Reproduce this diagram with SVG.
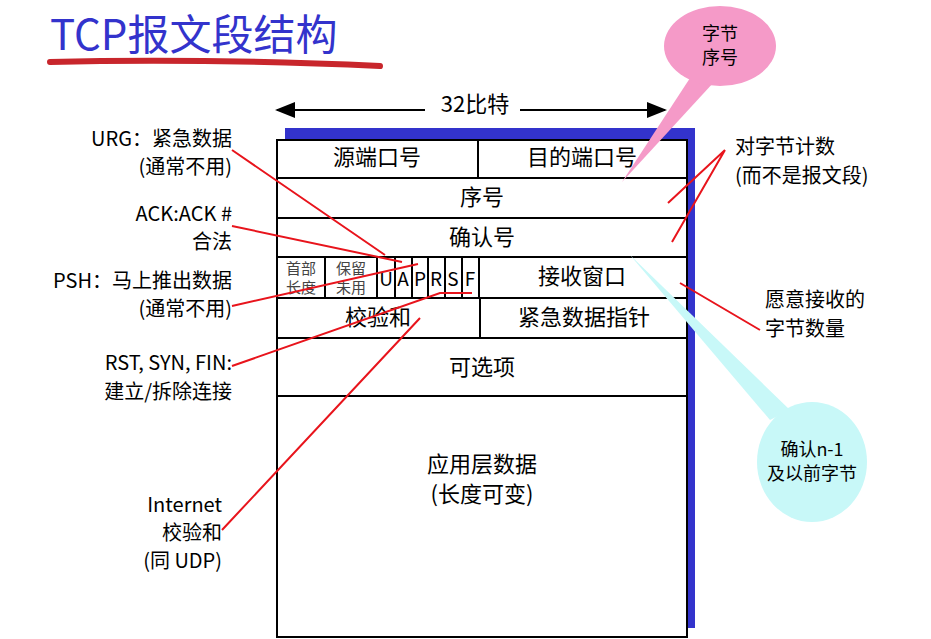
<svg xmlns="http://www.w3.org/2000/svg" width="931" height="639" viewBox="0 0 931 639">
<style>
text{font-family:"Noto Sans CJK SC","Noto Sans",sans-serif;fill:#000}
.c{font-size:22px;text-anchor:middle}
.l{font-size:20px;text-anchor:end}
.s{font-size:15px;fill:#444;text-anchor:middle}
.f{font-size:19px;text-anchor:middle}
.r{stroke:#e8141c;stroke-width:2;fill:none}
.b{stroke:#000;stroke-width:2;fill:none}
</style>
<defs><marker id="a" markerWidth="10" markerHeight="8" refX="9" refY="4" orient="auto"><path d="M0,0L10,4L0,8z" fill="#000"/></marker></defs>
<g id="title"><text x="50" y="50" font-size="42" style="fill:#3333cc">TCP报文段结构</text>
<path d="M50,62 Q200,58 380,66" stroke="#c8262c" stroke-width="6" fill="none" stroke-linecap="round"/></g>
<g id="width"><path d="M425,110 H277" class="b" marker-end="url(#a)"/><path d="M520,110 H665" class="b" marker-end="url(#a)"/><text class="c" x="475" y="112">32比特</text></g>
<g id="segment">
<rect x="285" y="128" width="410" height="500" fill="#3333cc"/>
<rect x="277" y="140" width="410" height="497" fill="#fff" stroke="#000" stroke-width="2"/>
<path class="b" d="M277,178H687M277,218H687M277,257H687M277,298H687M277,338H687M277,396H687M478,140V178M480,298V338M325,257V298M377,257V298M395,257V298M412,257V298M428,257V298M445,257V298M462,257V298M479,257V298"/>
<text class="c" x="377" y="165">源端口号</text><text class="c" x="582" y="165">目的端口号</text>
<text class="c" x="482" y="205">序号</text><text class="c" x="482" y="245">确认号</text>
<text class="s" x="301" y="274">首部</text><text class="s" x="301" y="293">长度</text>
<text class="s" x="351" y="274">保留</text><text class="s" x="351" y="293">未用</text>
<text class="f" x="386" y="286">U</text><text class="f" x="403" y="286">A</text><text class="f" x="420" y="286">P</text><text class="f" x="436" y="286">R</text><text class="f" x="453" y="286">S</text><text class="f" x="470" y="286">F</text>
<text class="c" x="582" y="284">接收窗口</text>
<text class="c" x="378" y="325">校验和</text><text class="c" x="584" y="325">紧急数据指针</text>
<text class="c" x="482" y="375">可选项</text>
<text class="c" x="482" y="472">应用层数据</text><text class="c" x="482" y="502">(长度可变)</text>
</g>
<g id="bubble1"><path d="M692,75 L622,182 L714,82 z" fill="#f59ac8"/><ellipse cx="720" cy="46" rx="56" ry="40" fill="#f59ac8"/><text class="c" x="720" y="40" style="font-size:18px">字节</text><text class="c" x="720" y="64" style="font-size:18px">序号</text></g>
<g id="bubble2"><path d="M630,255 L770,420 L790,410 z" fill="#c8f8f8"/><ellipse cx="812" cy="462" rx="55" ry="60" fill="#c8f8f8"/><text class="c" x="812" y="456" style="font-size:18px">确认n-1</text><text class="c" x="812" y="480" style="font-size:18px">及以前字节</text></g>
<g id="connectors">
<path class="r" d="M232,150L385,255M232,226L402,262M232,306L418,264M232,366L440,293H472M222,530L420,318"/>
<path class="r" d="M725,150L668,203M725,150L672,242M760,330L680,283"/>
</g>
<g id="labels">
<text class="l" x="232" y="146">URG：紧急数据</text><text class="l" x="232" y="174">(通常不用)</text>
<text class="l" x="232" y="221">ACK:ACK #</text><text class="l" x="232" y="249">合法</text>
<text class="l" x="232" y="288">PSH：马上推出数据</text><text class="l" x="232" y="316">(通常不用)</text>
<text class="l" x="232" y="370">RST, SYN, FIN:</text><text class="l" x="232" y="399">建立/拆除连接</text>
<text class="l" x="222" y="512">Internet</text><text class="l" x="222" y="540">校验和</text><text class="l" x="222" y="568">(同 UDP)</text>
<text x="735" y="154" style="font-size:20px">对字节计数</text><text x="735" y="183" style="font-size:20px">(而不是报文段)</text>
<text x="765" y="307" style="font-size:20px">愿意接收的</text><text x="765" y="336" style="font-size:20px">字节数量</text>
</g>
</svg>
